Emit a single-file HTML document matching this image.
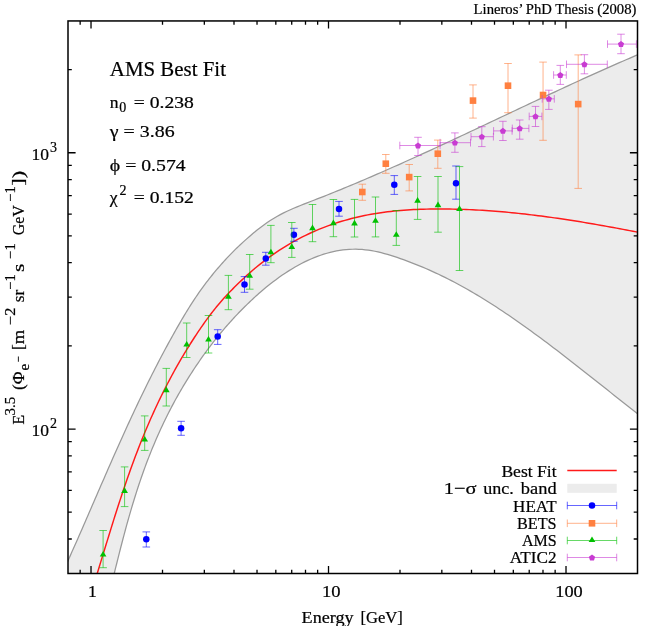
<!DOCTYPE html>
<html><head><meta charset="utf-8"><title>AMS Best Fit</title>
<style>html,body{margin:0;padding:0;background:#fff;}body{width:667px;height:626px;overflow:hidden;font-family:"Liberation Serif",serif;}svg{display:block;}</style></head>
<body>
<svg width="667" height="626" viewBox="0 0 667 626">
<rect width="667" height="626" fill="#ffffff"/>
<defs><clipPath id="cp"><rect x="68.00" y="20.95" width="569.50" height="552.55"/></clipPath></defs>
<g clip-path="url(#cp)">
<path d="M65.00,579.50 L66.00,565.13 L67.46,561.89 L68.92,558.64 L70.39,555.37 L71.85,552.09 L73.31,548.81 L74.77,545.51 L76.24,542.20 L77.70,538.88 L79.16,535.55 L80.62,532.22 L82.08,528.88 L83.55,525.53 L85.01,522.17 L86.47,518.81 L87.93,515.45 L89.39,512.08 L90.86,508.71 L92.32,505.33 L93.78,501.96 L95.24,498.59 L96.71,495.21 L98.17,491.84 L99.63,488.47 L101.09,485.10 L102.55,481.74 L104.02,478.38 L105.48,475.02 L106.94,471.67 L108.40,468.33 L109.87,465.00 L111.33,461.67 L112.79,458.35 L114.25,455.05 L115.71,451.75 L117.18,448.46 L118.64,445.18 L120.10,441.92 L121.56,438.67 L123.03,435.43 L124.49,432.21 L125.95,429.00 L127.41,425.80 L128.87,422.62 L130.34,419.46 L131.80,416.31 L133.26,413.18 L134.72,410.06 L136.18,406.96 L137.65,403.88 L139.11,400.81 L140.57,397.76 L142.03,394.74 L143.50,391.72 L144.96,388.73 L146.42,385.76 L147.88,382.80 L149.34,379.86 L150.81,376.95 L152.27,374.05 L153.73,371.17 L155.19,368.30 L156.66,365.46 L158.12,362.64 L159.58,359.83 L161.04,357.05 L162.50,354.28 L163.97,351.54 L165.43,348.81 L166.89,346.10 L168.35,343.41 L169.82,340.74 L171.28,338.09 L172.74,335.45 L174.20,332.84 L175.66,330.24 L177.13,327.66 L178.59,325.10 L180.05,322.57 L181.51,320.06 L182.97,317.58 L184.44,315.13 L185.90,312.71 L187.36,310.33 L188.82,307.97 L190.29,305.65 L191.75,303.37 L193.21,301.12 L194.67,298.91 L196.13,296.73 L197.60,294.59 L199.06,292.48 L200.52,290.41 L201.98,288.37 L203.45,286.36 L204.91,284.39 L206.37,282.46 L207.83,280.55 L209.29,278.67 L210.76,276.83 L212.22,275.01 L213.68,273.21 L215.14,271.44 L216.61,269.70 L218.07,267.99 L219.53,266.29 L220.99,264.62 L222.45,262.98 L223.92,261.35 L225.38,259.75 L226.84,258.17 L228.30,256.61 L229.76,255.08 L231.23,253.56 L232.69,252.07 L234.15,250.61 L235.61,249.16 L237.08,247.73 L238.54,246.33 L240.00,244.96 L243.36,241.86 L246.71,238.86 L250.07,235.93 L253.43,233.08 L256.79,230.32 L260.14,227.67 L263.50,225.15 L266.86,222.77 L270.21,220.54 L273.57,218.45 L276.93,216.50 L280.29,214.66 L283.64,212.93 L287.00,211.29 L290.36,209.74 L293.71,208.26 L297.07,206.85 L300.43,205.48 L303.79,204.14 L307.14,202.83 L310.50,201.54 L313.86,200.24 L317.21,198.94 L320.57,197.63 L323.93,196.31 L327.29,194.97 L330.64,193.63 L334.00,192.28 L337.36,190.92 L340.71,189.55 L344.07,188.17 L347.43,186.79 L350.79,185.39 L354.14,183.99 L357.50,182.57 L360.86,181.15 L364.21,179.73 L367.57,178.29 L370.93,176.85 L374.29,175.40 L377.64,173.94 L381.00,172.48 L384.36,171.00 L387.71,169.53 L391.07,168.04 L394.43,166.55 L397.79,165.06 L401.14,163.56 L404.50,162.05 L407.86,160.54 L411.21,159.02 L414.57,157.50 L417.93,155.97 L421.29,154.44 L424.64,152.91 L428.00,151.37 L431.36,149.82 L434.71,148.27 L438.07,146.72 L441.43,145.17 L444.79,143.61 L448.14,142.05 L451.50,140.48 L454.86,138.92 L458.21,137.35 L461.57,135.77 L464.93,134.20 L468.29,132.62 L471.64,131.05 L475.00,129.47 L478.36,127.89 L481.71,126.30 L485.07,124.72 L488.43,123.14 L491.79,121.55 L495.14,119.97 L498.50,118.38 L501.86,116.79 L505.21,115.21 L508.57,113.62 L511.93,112.04 L515.29,110.45 L518.64,108.87 L522.00,107.29 L525.36,105.71 L528.71,104.13 L532.07,102.55 L535.43,100.97 L538.79,99.40 L542.14,97.83 L545.50,96.26 L548.86,94.69 L552.21,93.12 L555.57,91.56 L558.93,90.00 L562.29,88.45 L565.64,86.90 L569.00,85.35 L572.36,83.80 L575.71,82.26 L579.07,80.73 L582.43,79.19 L585.79,77.67 L589.14,76.14 L592.50,74.63 L595.86,73.11 L599.21,71.61 L602.57,70.10 L605.93,68.61 L609.29,67.12 L612.64,65.63 L616.00,64.16 L619.36,62.68 L622.71,61.22 L626.07,59.76 L629.43,58.31 L632.79,56.87 L636.14,55.43 L639.50,54.00 L639.50,415.32 L636.31,412.82 L633.12,410.31 L629.93,407.79 L626.74,405.27 L623.55,402.74 L620.37,400.22 L617.18,397.69 L613.99,395.15 L610.80,392.62 L607.61,390.09 L604.42,387.55 L601.23,385.02 L598.04,382.49 L594.85,379.96 L591.66,377.44 L588.47,374.92 L585.29,372.40 L582.10,369.89 L578.91,367.39 L575.72,364.89 L572.53,362.40 L569.34,359.92 L566.15,357.45 L562.96,354.99 L559.77,352.54 L556.58,350.10 L553.39,347.67 L550.21,345.25 L547.02,342.85 L543.83,340.46 L540.64,338.09 L537.45,335.73 L534.26,333.39 L531.07,331.07 L527.88,328.76 L524.69,326.47 L521.50,324.20 L518.32,321.96 L515.13,319.73 L511.94,317.52 L508.75,315.33 L505.56,313.17 L502.37,311.03 L499.18,308.92 L495.99,306.83 L492.80,304.77 L489.61,302.73 L486.42,300.72 L483.24,298.73 L480.05,296.78 L476.86,294.86 L473.67,292.96 L470.48,291.10 L467.29,289.26 L464.10,287.46 L460.91,285.70 L457.72,283.96 L454.53,282.26 L451.34,280.60 L448.16,278.97 L444.97,277.38 L441.78,275.82 L438.59,274.29 L435.40,272.81 L432.21,271.35 L429.02,269.93 L425.83,268.54 L422.64,267.18 L419.45,265.86 L416.26,264.56 L413.08,263.30 L409.89,262.07 L406.70,260.87 L403.51,259.70 L400.32,258.56 L397.13,257.46 L393.94,256.40 L390.75,255.39 L387.56,254.43 L384.37,253.53 L381.18,252.70 L378.00,251.94 L374.81,251.26 L371.62,250.67 L368.43,250.17 L365.24,249.77 L362.05,249.48 L358.86,249.30 L355.67,249.22 L352.48,249.25 L349.29,249.39 L346.11,249.63 L342.92,249.98 L339.73,250.43 L336.54,250.98 L333.35,251.63 L330.16,252.38 L326.97,253.23 L323.78,254.18 L320.59,255.23 L317.40,256.38 L314.21,257.62 L311.03,258.95 L307.84,260.38 L304.65,261.90 L301.46,263.52 L298.27,265.23 L295.08,267.02 L291.89,268.91 L288.70,270.88 L285.51,272.94 L282.32,275.09 L279.13,277.33 L275.95,279.65 L272.76,282.05 L269.57,284.53 L266.38,287.10 L263.19,289.75 L260.00,292.49 L258.76,293.57 L257.53,294.67 L256.29,295.78 L255.06,296.90 L253.82,298.04 L252.59,299.18 L251.35,300.34 L250.12,301.51 L248.88,302.69 L247.65,303.88 L246.41,305.08 L245.18,306.30 L243.94,307.52 L242.71,308.76 L241.47,310.01 L240.24,311.28 L239.00,312.55 L237.76,313.84 L236.53,315.14 L235.29,316.45 L234.06,317.78 L232.82,319.12 L231.59,320.47 L230.35,321.83 L229.12,323.21 L227.88,324.60 L226.65,326.01 L225.41,327.43 L224.18,328.87 L222.94,330.32 L221.71,331.79 L220.47,333.27 L219.24,334.77 L218.00,336.28 L216.76,337.81 L215.53,339.35 L214.29,340.91 L213.06,342.49 L211.82,344.08 L210.59,345.69 L209.35,347.32 L208.12,348.97 L206.88,350.63 L205.65,352.31 L204.41,354.01 L203.18,355.73 L201.94,357.46 L200.71,359.22 L199.47,360.99 L198.24,362.79 L197.00,364.60 L195.76,366.43 L194.53,368.28 L193.29,370.16 L192.06,372.05 L190.82,373.96 L189.59,375.90 L188.35,377.86 L187.12,379.84 L185.88,381.85 L184.65,383.88 L183.41,385.93 L182.18,388.01 L180.94,390.12 L179.71,392.25 L178.47,394.41 L177.24,396.60 L176.00,398.82 L174.76,401.07 L173.53,403.35 L172.29,405.66 L171.06,408.01 L169.82,410.38 L168.59,412.80 L167.35,415.24 L166.12,417.73 L164.88,420.25 L163.65,422.82 L162.41,425.42 L161.18,428.06 L159.94,430.75 L158.71,433.48 L157.47,436.26 L156.24,439.09 L155.00,441.96 L153.76,444.89 L152.53,447.86 L151.29,450.89 L150.06,453.98 L148.82,457.12 L147.59,460.32 L146.35,463.59 L145.12,466.91 L143.88,470.30 L142.65,473.76 L141.41,477.28 L140.18,480.88 L138.94,484.54 L137.71,488.28 L136.47,492.10 L135.24,495.99 L134.00,499.96 L132.76,504.01 L131.53,508.14 L130.29,512.35 L129.06,516.63 L127.82,521.00 L126.59,525.45 L125.35,529.97 L124.12,534.57 L122.88,539.23 L121.65,543.97 L120.41,548.77 L119.18,553.62 L117.94,558.53 L116.71,563.48 L115.47,568.47 L114.24,573.49 L113.00,578.53 L113.00,579.50Z" fill="#ececec" stroke="none"/>
<path d="M66.00,565.13 L67.46,561.89 L68.92,558.64 L70.39,555.37 L71.85,552.09 L73.31,548.81 L74.77,545.51 L76.24,542.20 L77.70,538.88 L79.16,535.55 L80.62,532.22 L82.08,528.88 L83.55,525.53 L85.01,522.17 L86.47,518.81 L87.93,515.45 L89.39,512.08 L90.86,508.71 L92.32,505.33 L93.78,501.96 L95.24,498.59 L96.71,495.21 L98.17,491.84 L99.63,488.47 L101.09,485.10 L102.55,481.74 L104.02,478.38 L105.48,475.02 L106.94,471.67 L108.40,468.33 L109.87,465.00 L111.33,461.67 L112.79,458.35 L114.25,455.05 L115.71,451.75 L117.18,448.46 L118.64,445.18 L120.10,441.92 L121.56,438.67 L123.03,435.43 L124.49,432.21 L125.95,429.00 L127.41,425.80 L128.87,422.62 L130.34,419.46 L131.80,416.31 L133.26,413.18 L134.72,410.06 L136.18,406.96 L137.65,403.88 L139.11,400.81 L140.57,397.76 L142.03,394.74 L143.50,391.72 L144.96,388.73 L146.42,385.76 L147.88,382.80 L149.34,379.86 L150.81,376.95 L152.27,374.05 L153.73,371.17 L155.19,368.30 L156.66,365.46 L158.12,362.64 L159.58,359.83 L161.04,357.05 L162.50,354.28 L163.97,351.54 L165.43,348.81 L166.89,346.10 L168.35,343.41 L169.82,340.74 L171.28,338.09 L172.74,335.45 L174.20,332.84 L175.66,330.24 L177.13,327.66 L178.59,325.10 L180.05,322.57 L181.51,320.06 L182.97,317.58 L184.44,315.13 L185.90,312.71 L187.36,310.33 L188.82,307.97 L190.29,305.65 L191.75,303.37 L193.21,301.12 L194.67,298.91 L196.13,296.73 L197.60,294.59 L199.06,292.48 L200.52,290.41 L201.98,288.37 L203.45,286.36 L204.91,284.39 L206.37,282.46 L207.83,280.55 L209.29,278.67 L210.76,276.83 L212.22,275.01 L213.68,273.21 L215.14,271.44 L216.61,269.70 L218.07,267.99 L219.53,266.29 L220.99,264.62 L222.45,262.98 L223.92,261.35 L225.38,259.75 L226.84,258.17 L228.30,256.61 L229.76,255.08 L231.23,253.56 L232.69,252.07 L234.15,250.61 L235.61,249.16 L237.08,247.73 L238.54,246.33 L240.00,244.96 L243.36,241.86 L246.71,238.86 L250.07,235.93 L253.43,233.08 L256.79,230.32 L260.14,227.67 L263.50,225.15 L266.86,222.77 L270.21,220.54 L273.57,218.45 L276.93,216.50 L280.29,214.66 L283.64,212.93 L287.00,211.29 L290.36,209.74 L293.71,208.26 L297.07,206.85 L300.43,205.48 L303.79,204.14 L307.14,202.83 L310.50,201.54 L313.86,200.24 L317.21,198.94 L320.57,197.63 L323.93,196.31 L327.29,194.97 L330.64,193.63 L334.00,192.28 L337.36,190.92 L340.71,189.55 L344.07,188.17 L347.43,186.79 L350.79,185.39 L354.14,183.99 L357.50,182.57 L360.86,181.15 L364.21,179.73 L367.57,178.29 L370.93,176.85 L374.29,175.40 L377.64,173.94 L381.00,172.48 L384.36,171.00 L387.71,169.53 L391.07,168.04 L394.43,166.55 L397.79,165.06 L401.14,163.56 L404.50,162.05 L407.86,160.54 L411.21,159.02 L414.57,157.50 L417.93,155.97 L421.29,154.44 L424.64,152.91 L428.00,151.37 L431.36,149.82 L434.71,148.27 L438.07,146.72 L441.43,145.17 L444.79,143.61 L448.14,142.05 L451.50,140.48 L454.86,138.92 L458.21,137.35 L461.57,135.77 L464.93,134.20 L468.29,132.62 L471.64,131.05 L475.00,129.47 L478.36,127.89 L481.71,126.30 L485.07,124.72 L488.43,123.14 L491.79,121.55 L495.14,119.97 L498.50,118.38 L501.86,116.79 L505.21,115.21 L508.57,113.62 L511.93,112.04 L515.29,110.45 L518.64,108.87 L522.00,107.29 L525.36,105.71 L528.71,104.13 L532.07,102.55 L535.43,100.97 L538.79,99.40 L542.14,97.83 L545.50,96.26 L548.86,94.69 L552.21,93.12 L555.57,91.56 L558.93,90.00 L562.29,88.45 L565.64,86.90 L569.00,85.35 L572.36,83.80 L575.71,82.26 L579.07,80.73 L582.43,79.19 L585.79,77.67 L589.14,76.14 L592.50,74.63 L595.86,73.11 L599.21,71.61 L602.57,70.10 L605.93,68.61 L609.29,67.12 L612.64,65.63 L616.00,64.16 L619.36,62.68 L622.71,61.22 L626.07,59.76 L629.43,58.31 L632.79,56.87 L636.14,55.43 L639.50,54.00" fill="none" stroke="#999999" stroke-width="1.25"/>
<path d="M113.00,578.53 L114.24,573.49 L115.47,568.47 L116.71,563.48 L117.94,558.53 L119.18,553.62 L120.41,548.77 L121.65,543.97 L122.88,539.23 L124.12,534.57 L125.35,529.97 L126.59,525.45 L127.82,521.00 L129.06,516.63 L130.29,512.35 L131.53,508.14 L132.76,504.01 L134.00,499.96 L135.24,495.99 L136.47,492.10 L137.71,488.28 L138.94,484.54 L140.18,480.88 L141.41,477.28 L142.65,473.76 L143.88,470.30 L145.12,466.91 L146.35,463.59 L147.59,460.32 L148.82,457.12 L150.06,453.98 L151.29,450.89 L152.53,447.86 L153.76,444.89 L155.00,441.96 L156.24,439.09 L157.47,436.26 L158.71,433.48 L159.94,430.75 L161.18,428.06 L162.41,425.42 L163.65,422.82 L164.88,420.25 L166.12,417.73 L167.35,415.24 L168.59,412.80 L169.82,410.38 L171.06,408.01 L172.29,405.66 L173.53,403.35 L174.76,401.07 L176.00,398.82 L177.24,396.60 L178.47,394.41 L179.71,392.25 L180.94,390.12 L182.18,388.01 L183.41,385.93 L184.65,383.88 L185.88,381.85 L187.12,379.84 L188.35,377.86 L189.59,375.90 L190.82,373.96 L192.06,372.05 L193.29,370.16 L194.53,368.28 L195.76,366.43 L197.00,364.60 L198.24,362.79 L199.47,360.99 L200.71,359.22 L201.94,357.46 L203.18,355.73 L204.41,354.01 L205.65,352.31 L206.88,350.63 L208.12,348.97 L209.35,347.32 L210.59,345.69 L211.82,344.08 L213.06,342.49 L214.29,340.91 L215.53,339.35 L216.76,337.81 L218.00,336.28 L219.24,334.77 L220.47,333.27 L221.71,331.79 L222.94,330.32 L224.18,328.87 L225.41,327.43 L226.65,326.01 L227.88,324.60 L229.12,323.21 L230.35,321.83 L231.59,320.47 L232.82,319.12 L234.06,317.78 L235.29,316.45 L236.53,315.14 L237.76,313.84 L239.00,312.55 L240.24,311.28 L241.47,310.01 L242.71,308.76 L243.94,307.52 L245.18,306.30 L246.41,305.08 L247.65,303.88 L248.88,302.69 L250.12,301.51 L251.35,300.34 L252.59,299.18 L253.82,298.04 L255.06,296.90 L256.29,295.78 L257.53,294.67 L258.76,293.57 L260.00,292.49 L263.19,289.75 L266.38,287.10 L269.57,284.53 L272.76,282.05 L275.95,279.65 L279.13,277.33 L282.32,275.09 L285.51,272.94 L288.70,270.88 L291.89,268.91 L295.08,267.02 L298.27,265.23 L301.46,263.52 L304.65,261.90 L307.84,260.38 L311.03,258.95 L314.21,257.62 L317.40,256.38 L320.59,255.23 L323.78,254.18 L326.97,253.23 L330.16,252.38 L333.35,251.63 L336.54,250.98 L339.73,250.43 L342.92,249.98 L346.11,249.63 L349.29,249.39 L352.48,249.25 L355.67,249.22 L358.86,249.30 L362.05,249.48 L365.24,249.77 L368.43,250.17 L371.62,250.67 L374.81,251.26 L378.00,251.94 L381.18,252.70 L384.37,253.53 L387.56,254.43 L390.75,255.39 L393.94,256.40 L397.13,257.46 L400.32,258.56 L403.51,259.70 L406.70,260.87 L409.89,262.07 L413.08,263.30 L416.26,264.56 L419.45,265.86 L422.64,267.18 L425.83,268.54 L429.02,269.93 L432.21,271.35 L435.40,272.81 L438.59,274.29 L441.78,275.82 L444.97,277.38 L448.16,278.97 L451.34,280.60 L454.53,282.26 L457.72,283.96 L460.91,285.70 L464.10,287.46 L467.29,289.26 L470.48,291.10 L473.67,292.96 L476.86,294.86 L480.05,296.78 L483.24,298.73 L486.42,300.72 L489.61,302.73 L492.80,304.77 L495.99,306.83 L499.18,308.92 L502.37,311.03 L505.56,313.17 L508.75,315.33 L511.94,317.52 L515.13,319.73 L518.32,321.96 L521.50,324.20 L524.69,326.47 L527.88,328.76 L531.07,331.07 L534.26,333.39 L537.45,335.73 L540.64,338.09 L543.83,340.46 L547.02,342.85 L550.21,345.25 L553.39,347.67 L556.58,350.10 L559.77,352.54 L562.96,354.99 L566.15,357.45 L569.34,359.92 L572.53,362.40 L575.72,364.89 L578.91,367.39 L582.10,369.89 L585.29,372.40 L588.47,374.92 L591.66,377.44 L594.85,379.96 L598.04,382.49 L601.23,385.02 L604.42,387.55 L607.61,390.09 L610.80,392.62 L613.99,395.15 L617.18,397.69 L620.37,400.22 L623.55,402.74 L626.74,405.27 L629.93,407.79 L633.12,410.31 L636.31,412.82 L639.50,415.32" fill="none" stroke="#999999" stroke-width="1.25"/>
<path d="M97.00,574.18 L98.29,570.00 L99.57,565.81 L100.86,561.61 L102.14,557.40 L103.43,553.20 L104.71,548.99 L106.00,544.79 L107.29,540.60 L108.57,536.42 L109.86,532.26 L111.14,528.12 L112.43,523.99 L113.71,519.90 L115.00,515.83 L116.29,511.79 L117.57,507.78 L118.86,503.80 L120.14,499.86 L121.43,495.96 L122.71,492.10 L124.00,488.28 L125.29,484.50 L126.57,480.77 L127.86,477.07 L129.14,473.42 L130.43,469.82 L131.71,466.26 L133.00,462.74 L134.29,459.27 L135.57,455.84 L136.86,452.46 L138.14,449.12 L139.43,445.83 L140.71,442.57 L142.00,439.37 L143.29,436.20 L144.57,433.08 L145.86,429.99 L147.14,426.95 L148.43,423.95 L149.71,420.99 L151.00,418.06 L152.29,415.18 L153.57,412.33 L154.86,409.51 L156.14,406.74 L157.43,404.00 L158.71,401.29 L160.00,398.62 L161.29,395.98 L162.57,393.37 L163.86,390.80 L165.14,388.25 L166.43,385.74 L167.71,383.26 L169.00,380.80 L170.29,378.38 L171.57,375.98 L172.86,373.61 L174.14,371.27 L175.43,368.95 L176.71,366.66 L178.00,364.39 L179.29,362.15 L180.57,359.94 L181.86,357.74 L183.14,355.57 L184.43,353.42 L185.71,351.30 L187.00,349.20 L188.29,347.11 L189.57,345.05 L190.86,343.01 L192.14,340.99 L193.43,338.99 L194.71,337.01 L196.00,335.05 L197.29,333.11 L198.57,331.19 L199.86,329.29 L201.14,327.41 L202.43,325.56 L203.71,323.73 L205.00,321.93 L206.29,320.15 L207.57,318.40 L208.86,316.67 L210.14,314.97 L211.43,313.29 L212.71,311.63 L214.00,310.00 L215.29,308.39 L216.57,306.81 L217.86,305.25 L219.14,303.72 L220.43,302.22 L221.71,300.74 L223.00,299.29 L224.29,297.85 L225.57,296.45 L226.86,295.06 L228.14,293.69 L229.43,292.34 L230.71,291.00 L232.00,289.69 L233.29,288.38 L234.57,287.10 L235.86,285.82 L237.14,284.56 L238.43,283.31 L239.71,282.07 L241.00,280.85 L242.29,279.63 L243.57,278.43 L244.86,277.24 L246.14,276.07 L247.43,274.90 L248.71,273.75 L250.00,272.61 L253.27,269.78 L256.55,267.04 L259.82,264.38 L263.09,261.81 L266.37,259.32 L269.64,256.91 L272.91,254.58 L276.18,252.33 L279.46,250.16 L282.73,248.06 L286.00,246.03 L289.28,244.08 L292.55,242.19 L295.82,240.38 L299.10,238.63 L302.37,236.95 L305.64,235.33 L308.92,233.77 L312.19,232.27 L315.46,230.83 L318.74,229.45 L322.01,228.13 L325.28,226.86 L328.55,225.64 L331.83,224.48 L335.10,223.37 L338.37,222.31 L341.65,221.30 L344.92,220.34 L348.19,219.43 L351.47,218.56 L354.74,217.74 L358.01,216.97 L361.29,216.24 L364.56,215.55 L367.83,214.90 L371.11,214.29 L374.38,213.72 L377.65,213.19 L380.92,212.70 L384.20,212.24 L387.47,211.82 L390.74,211.43 L394.02,211.08 L397.29,210.75 L400.56,210.46 L403.84,210.20 L407.11,209.96 L410.38,209.76 L413.66,209.58 L416.93,209.42 L420.20,209.29 L423.47,209.18 L426.75,209.10 L430.02,209.04 L433.29,208.99 L436.57,208.97 L439.84,208.96 L443.11,208.97 L446.39,209.00 L449.66,209.04 L452.93,209.10 L456.21,209.18 L459.48,209.27 L462.75,209.37 L466.03,209.50 L469.30,209.63 L472.57,209.79 L475.84,209.95 L479.12,210.14 L482.39,210.33 L485.66,210.54 L488.94,210.77 L492.21,211.00 L495.48,211.26 L498.76,211.52 L502.03,211.80 L505.30,212.09 L508.58,212.39 L511.85,212.71 L515.12,213.03 L518.39,213.37 L521.67,213.73 L524.94,214.09 L528.21,214.46 L531.49,214.85 L534.76,215.25 L538.03,215.66 L541.31,216.07 L544.58,216.50 L547.85,216.94 L551.13,217.39 L554.40,217.85 L557.67,218.32 L560.95,218.79 L564.22,219.28 L567.49,219.78 L570.76,220.28 L574.04,220.79 L577.31,221.31 L580.58,221.84 L583.86,222.38 L587.13,222.92 L590.40,223.48 L593.68,224.04 L596.95,224.60 L600.22,225.18 L603.50,225.75 L606.77,226.34 L610.04,226.93 L613.32,227.53 L616.59,228.14 L619.86,228.74 L623.13,229.36 L626.41,229.98 L629.68,230.60 L632.95,231.23 L636.23,231.87 L639.50,232.51" fill="none" stroke="#ff1a1a" stroke-width="1.45"/>
<path d="M146.30,531.90V547.00M142.50,531.90H150.10M142.50,547.00H150.10" stroke="#0000ff" stroke-width="1.0" stroke-opacity="0.6" fill="none"/>
<path d="M181.10,421.30V435.30M177.30,421.30H184.90M177.30,435.30H184.90" stroke="#0000ff" stroke-width="1.0" stroke-opacity="0.6" fill="none"/>
<path d="M217.70,329.70V344.40M213.90,329.70H221.50M213.90,344.40H221.50" stroke="#0000ff" stroke-width="1.0" stroke-opacity="0.6" fill="none"/>
<path d="M244.50,276.60V292.30M240.70,276.60H248.30M240.70,292.30H248.30" stroke="#0000ff" stroke-width="1.0" stroke-opacity="0.6" fill="none"/>
<path d="M265.80,252.30V265.20M262.00,252.30H269.60M262.00,265.20H269.60" stroke="#0000ff" stroke-width="1.0" stroke-opacity="0.6" fill="none"/>
<path d="M293.90,228.30V241.30M290.10,228.30H297.70M290.10,241.30H297.70" stroke="#0000ff" stroke-width="1.0" stroke-opacity="0.6" fill="none"/>
<path d="M339.00,201.40V216.20M335.20,201.40H342.80M335.20,216.20H342.80" stroke="#0000ff" stroke-width="1.0" stroke-opacity="0.6" fill="none"/>
<path d="M394.30,175.60V194.40M390.50,175.60H398.10M390.50,194.40H398.10" stroke="#0000ff" stroke-width="1.0" stroke-opacity="0.6" fill="none"/>
<path d="M456.00,166.00V199.20M452.20,166.00H459.80M452.20,199.20H459.80" stroke="#0000ff" stroke-width="1.0" stroke-opacity="0.6" fill="none"/>
<circle cx="146.30" cy="539.20" r="3.25" fill="#0000ff"/>
<circle cx="181.10" cy="428.20" r="3.25" fill="#0000ff"/>
<circle cx="217.70" cy="336.60" r="3.25" fill="#0000ff"/>
<circle cx="244.50" cy="284.40" r="3.25" fill="#0000ff"/>
<circle cx="265.80" cy="258.60" r="3.25" fill="#0000ff"/>
<circle cx="293.90" cy="234.80" r="3.25" fill="#0000ff"/>
<circle cx="339.00" cy="209.10" r="3.25" fill="#0000ff"/>
<circle cx="394.30" cy="184.80" r="3.25" fill="#0000ff"/>
<circle cx="456.00" cy="183.30" r="3.25" fill="#0000ff"/>
<path d="M362.30,184.20V200.30M358.50,184.20H366.10M358.50,200.30H366.10" stroke="#ff8040" stroke-width="1.0" stroke-opacity="0.6" fill="none"/>
<path d="M385.80,154.50V173.30M382.00,154.50H389.60M382.00,173.30H389.60" stroke="#ff8040" stroke-width="1.0" stroke-opacity="0.6" fill="none"/>
<path d="M409.20,164.50V190.90M405.40,164.50H413.00M405.40,190.90H413.00" stroke="#ff8040" stroke-width="1.0" stroke-opacity="0.6" fill="none"/>
<path d="M437.80,140.10V168.30M434.00,140.10H441.60M434.00,168.30H441.60" stroke="#ff8040" stroke-width="1.0" stroke-opacity="0.6" fill="none"/>
<path d="M473.00,84.90V118.10M469.20,84.90H476.80M469.20,118.10H476.80" stroke="#ff8040" stroke-width="1.0" stroke-opacity="0.6" fill="none"/>
<path d="M508.00,63.50V112.70M504.20,63.50H511.80M504.20,112.70H511.80" stroke="#ff8040" stroke-width="1.0" stroke-opacity="0.6" fill="none"/>
<path d="M543.05,62.10V140.30M539.25,62.10H546.85M539.25,140.30H546.85" stroke="#ff8040" stroke-width="1.0" stroke-opacity="0.6" fill="none"/>
<path d="M578.20,54.90V188.40M574.40,54.90H582.00M574.40,188.40H582.00" stroke="#ff8040" stroke-width="1.0" stroke-opacity="0.6" fill="none"/>
<rect x="359.00" y="188.70" width="6.6" height="6.6" fill="#ff8040"/>
<rect x="382.50" y="160.40" width="6.6" height="6.6" fill="#ff8040"/>
<rect x="405.90" y="173.80" width="6.6" height="6.6" fill="#ff8040"/>
<rect x="434.50" y="150.40" width="6.6" height="6.6" fill="#ff8040"/>
<rect x="469.70" y="97.30" width="6.6" height="6.6" fill="#ff8040"/>
<rect x="504.70" y="82.40" width="6.6" height="6.6" fill="#ff8040"/>
<rect x="539.75" y="91.70" width="6.6" height="6.6" fill="#ff8040"/>
<rect x="574.90" y="100.80" width="6.6" height="6.6" fill="#ff8040"/>
<path d="M103.10,530.50V567.70M99.30,530.50H106.90M99.30,567.70H106.90" stroke="#00c000" stroke-width="1.0" stroke-opacity="0.6" fill="none"/>
<path d="M124.60,466.90V506.60M120.80,466.90H128.40M120.80,506.60H128.40" stroke="#00c000" stroke-width="1.0" stroke-opacity="0.6" fill="none"/>
<path d="M144.70,415.90V450.40M140.90,415.90H148.50M140.90,450.40H148.50" stroke="#00c000" stroke-width="1.0" stroke-opacity="0.6" fill="none"/>
<path d="M166.30,368.40V406.00M162.50,368.40H170.10M162.50,406.00H170.10" stroke="#00c000" stroke-width="1.0" stroke-opacity="0.6" fill="none"/>
<path d="M186.70,323.00V357.50M182.90,323.00H190.50M182.90,357.50H190.50" stroke="#00c000" stroke-width="1.0" stroke-opacity="0.6" fill="none"/>
<path d="M208.50,315.50V353.00M204.70,315.50H212.30M204.70,353.00H212.30" stroke="#00c000" stroke-width="1.0" stroke-opacity="0.6" fill="none"/>
<path d="M228.40,275.40V309.70M224.60,275.40H232.20M224.60,309.70H232.20" stroke="#00c000" stroke-width="1.0" stroke-opacity="0.6" fill="none"/>
<path d="M249.70,254.50V289.20M245.90,254.50H253.50M245.90,289.20H253.50" stroke="#00c000" stroke-width="1.0" stroke-opacity="0.6" fill="none"/>
<path d="M270.90,225.40V262.70M267.10,225.40H274.70M267.10,262.70H274.70" stroke="#00c000" stroke-width="1.0" stroke-opacity="0.6" fill="none"/>
<path d="M291.80,222.50V257.40M288.00,222.50H295.60M288.00,257.40H295.60" stroke="#00c000" stroke-width="1.0" stroke-opacity="0.6" fill="none"/>
<path d="M312.50,204.50V241.70M308.70,204.50H316.30M308.70,241.70H316.30" stroke="#00c000" stroke-width="1.0" stroke-opacity="0.6" fill="none"/>
<path d="M333.40,199.50V236.70M329.60,199.50H337.20M329.60,236.70H337.20" stroke="#00c000" stroke-width="1.0" stroke-opacity="0.6" fill="none"/>
<path d="M354.50,199.40V237.00M350.70,199.40H358.30M350.70,237.00H358.30" stroke="#00c000" stroke-width="1.0" stroke-opacity="0.6" fill="none"/>
<path d="M375.50,197.00V236.90M371.70,197.00H379.30M371.70,236.90H379.30" stroke="#00c000" stroke-width="1.0" stroke-opacity="0.6" fill="none"/>
<path d="M396.30,210.50V245.40M392.50,210.50H400.10M392.50,245.40H400.10" stroke="#00c000" stroke-width="1.0" stroke-opacity="0.6" fill="none"/>
<path d="M417.60,176.50V219.40M413.80,176.50H421.40M413.80,219.40H421.40" stroke="#00c000" stroke-width="1.0" stroke-opacity="0.6" fill="none"/>
<path d="M438.00,176.50V232.20M434.20,176.50H441.80M434.20,232.20H441.80" stroke="#00c000" stroke-width="1.0" stroke-opacity="0.6" fill="none"/>
<path d="M459.50,166.60V270.50M455.70,166.60H463.30M455.70,270.50H463.30" stroke="#00c000" stroke-width="1.0" stroke-opacity="0.6" fill="none"/>
<path d="M103.10,550.95L99.75,556.55L106.45,556.55Z" fill="#00c000"/>
<path d="M124.60,487.35L121.25,492.95L127.95,492.95Z" fill="#00c000"/>
<path d="M144.70,435.95L141.35,441.55L148.05,441.55Z" fill="#00c000"/>
<path d="M166.30,386.55L162.95,392.15L169.65,392.15Z" fill="#00c000"/>
<path d="M186.70,340.95L183.35,346.55L190.05,346.55Z" fill="#00c000"/>
<path d="M208.50,335.95L205.15,341.55L211.85,341.55Z" fill="#00c000"/>
<path d="M228.40,293.15L225.05,298.75L231.75,298.75Z" fill="#00c000"/>
<path d="M249.70,272.25L246.35,277.85L253.05,277.85Z" fill="#00c000"/>
<path d="M270.90,248.65L267.55,254.25L274.25,254.25Z" fill="#00c000"/>
<path d="M291.80,243.35L288.45,248.95L295.15,248.95Z" fill="#00c000"/>
<path d="M312.50,224.55L309.15,230.15L315.85,230.15Z" fill="#00c000"/>
<path d="M333.40,219.55L330.05,225.15L336.75,225.15Z" fill="#00c000"/>
<path d="M354.50,219.85L351.15,225.45L357.85,225.45Z" fill="#00c000"/>
<path d="M375.50,217.15L372.15,222.75L378.85,222.75Z" fill="#00c000"/>
<path d="M396.30,231.25L392.95,236.85L399.65,236.85Z" fill="#00c000"/>
<path d="M417.60,197.05L414.25,202.65L420.95,202.65Z" fill="#00c000"/>
<path d="M438.00,201.55L434.65,207.15L441.35,207.15Z" fill="#00c000"/>
<path d="M459.50,205.35L456.15,210.95L462.85,210.95Z" fill="#00c000"/>
<path d="M399.80,145.50H440.10M399.80,141.70V149.30M440.10,141.70V149.30" stroke="#c83cd2" stroke-width="1.0" stroke-opacity="0.6" fill="none"/>
<path d="M418.00,137.30V155.50M414.20,137.30H421.80M414.20,155.50H421.80" stroke="#c83cd2" stroke-width="1.0" stroke-opacity="0.6" fill="none"/>
<path d="M440.10,142.70H470.50M440.10,138.90V146.50M470.50,138.90V146.50" stroke="#c83cd2" stroke-width="1.0" stroke-opacity="0.6" fill="none"/>
<path d="M454.90,132.90V152.30M451.10,132.90H458.70M451.10,152.30H458.70" stroke="#c83cd2" stroke-width="1.0" stroke-opacity="0.6" fill="none"/>
<path d="M471.00,136.70H493.40M471.00,132.90V140.50M493.40,132.90V140.50" stroke="#c83cd2" stroke-width="1.0" stroke-opacity="0.6" fill="none"/>
<path d="M481.80,126.70V146.60M478.00,126.70H485.60M478.00,146.60H485.60" stroke="#c83cd2" stroke-width="1.0" stroke-opacity="0.6" fill="none"/>
<path d="M493.60,130.90H512.10M493.60,127.10V134.70M512.10,127.10V134.70" stroke="#c83cd2" stroke-width="1.0" stroke-opacity="0.6" fill="none"/>
<path d="M502.90,121.30V140.50M499.10,121.30H506.70M499.10,140.50H506.70" stroke="#c83cd2" stroke-width="1.0" stroke-opacity="0.6" fill="none"/>
<path d="M512.30,128.40H528.90M512.30,124.60V132.20M528.90,124.60V132.20" stroke="#c83cd2" stroke-width="1.0" stroke-opacity="0.6" fill="none"/>
<path d="M519.70,120.00V139.20M515.90,120.00H523.50M515.90,139.20H523.50" stroke="#c83cd2" stroke-width="1.0" stroke-opacity="0.6" fill="none"/>
<path d="M529.20,116.40H541.90M529.20,112.60V120.20M541.90,112.60V120.20" stroke="#c83cd2" stroke-width="1.0" stroke-opacity="0.6" fill="none"/>
<path d="M535.50,106.40V126.50M531.70,106.40H539.30M531.70,126.50H539.30" stroke="#c83cd2" stroke-width="1.0" stroke-opacity="0.6" fill="none"/>
<path d="M542.20,98.85H554.30M542.20,95.05V102.65M554.30,95.05V102.65" stroke="#c83cd2" stroke-width="1.0" stroke-opacity="0.6" fill="none"/>
<path d="M548.85,90.20V109.40M545.05,90.20H552.65M545.05,109.40H552.65" stroke="#c83cd2" stroke-width="1.0" stroke-opacity="0.6" fill="none"/>
<path d="M553.60,75.00H566.30M553.60,71.20V78.80M566.30,71.20V78.80" stroke="#c83cd2" stroke-width="1.0" stroke-opacity="0.6" fill="none"/>
<path d="M560.30,65.40V84.40M556.50,65.40H564.10M556.50,84.40H564.10" stroke="#c83cd2" stroke-width="1.0" stroke-opacity="0.6" fill="none"/>
<path d="M566.50,64.30H607.30M566.50,60.50V68.10M607.30,60.50V68.10" stroke="#c83cd2" stroke-width="1.0" stroke-opacity="0.6" fill="none"/>
<path d="M584.40,54.70V73.80M580.60,54.70H588.20M580.60,73.80H588.20" stroke="#c83cd2" stroke-width="1.0" stroke-opacity="0.6" fill="none"/>
<path d="M607.50,44.10H636.40M607.50,40.30V47.90M636.40,40.30V47.90" stroke="#c83cd2" stroke-width="1.0" stroke-opacity="0.6" fill="none"/>
<path d="M621.00,34.20V53.70M617.20,34.20H624.80M617.20,53.70H624.80" stroke="#c83cd2" stroke-width="1.0" stroke-opacity="0.6" fill="none"/>
<polygon points="418.00,142.45 421.14,144.73 419.94,148.42 416.06,148.42 414.86,144.73" fill="#c83cd2"/>
<polygon points="454.90,139.65 458.04,141.93 456.84,145.62 452.96,145.62 451.76,141.93" fill="#c83cd2"/>
<polygon points="481.80,133.65 484.94,135.93 483.74,139.62 479.86,139.62 478.66,135.93" fill="#c83cd2"/>
<polygon points="502.90,127.85 506.04,130.13 504.84,133.82 500.96,133.82 499.76,130.13" fill="#c83cd2"/>
<polygon points="519.70,125.35 522.84,127.63 521.64,131.32 517.76,131.32 516.56,127.63" fill="#c83cd2"/>
<polygon points="535.50,113.35 538.64,115.63 537.44,119.32 533.56,119.32 532.36,115.63" fill="#c83cd2"/>
<polygon points="548.85,95.80 551.99,98.08 550.79,101.77 546.91,101.77 545.71,98.08" fill="#c83cd2"/>
<polygon points="560.30,71.95 563.44,74.23 562.24,77.92 558.36,77.92 557.16,74.23" fill="#c83cd2"/>
<polygon points="584.40,61.25 587.54,63.53 586.34,67.22 582.46,67.22 581.26,63.53" fill="#c83cd2"/>
<polygon points="621.00,41.05 624.14,43.33 622.94,47.02 619.06,47.02 617.86,43.33" fill="#c83cd2"/>
</g>
<path d="M567.30,470.40H616.70" stroke="#ff1a1a" stroke-width="1.45"/>
<rect x="567.30" y="483.80" width="49.40" height="9" fill="#ececec"/>
<path d="M567.30,505.50H616.70M567.30,501.70V509.30M616.70,501.70V509.30" stroke="#0000ff" stroke-width="1.0" stroke-opacity="0.6" fill="none"/>
<circle cx="592.00" cy="505.50" r="3.25" fill="#0000ff"/>
<path d="M567.30,523.30H616.70M567.30,519.50V527.10M616.70,519.50V527.10" stroke="#ff8040" stroke-width="1.0" stroke-opacity="0.6" fill="none"/>
<rect x="588.70" y="520.00" width="6.6" height="6.6" fill="#ff8040"/>
<path d="M567.30,540.50H616.70M567.30,536.70V544.30M616.70,536.70V544.30" stroke="#00c000" stroke-width="1.0" stroke-opacity="0.6" fill="none"/>
<path d="M592.00,536.50L588.65,542.10L595.35,542.10Z" fill="#00c000"/>
<path d="M567.30,557.50H616.70M567.30,553.70V561.30M616.70,553.70V561.30" stroke="#c83cd2" stroke-width="1.0" stroke-opacity="0.6" fill="none"/>
<polygon points="592.00,554.45 595.14,556.73 593.94,560.42 590.06,560.42 588.86,556.73" fill="#c83cd2"/>
<path d="M80.15,573.50v-3.80M80.15,20.95v3.80M91.02,573.50v-7.60M91.02,20.95v7.60M162.51,573.50v-3.80M162.51,20.95v3.80M204.33,573.50v-3.80M204.33,20.95v3.80M234.00,573.50v-3.80M234.00,20.95v3.80M257.02,573.50v-3.80M257.02,20.95v3.80M275.82,573.50v-3.80M275.82,20.95v3.80M291.72,573.50v-3.80M291.72,20.95v3.80M305.50,573.50v-3.80M305.50,20.95v3.80M317.64,573.50v-3.80M317.64,20.95v3.80M328.51,573.50v-7.60M328.51,20.95v7.60M400.00,573.50v-3.80M400.00,20.95v3.80M441.83,573.50v-3.80M441.83,20.95v3.80M471.50,573.50v-3.80M471.50,20.95v3.80M494.51,573.50v-3.80M494.51,20.95v3.80M513.32,573.50v-3.80M513.32,20.95v3.80M529.22,573.50v-3.80M529.22,20.95v3.80M542.99,573.50v-3.80M542.99,20.95v3.80M555.14,573.50v-3.80M555.14,20.95v3.80M566.01,573.50v-7.60M566.01,20.95v7.60M68.00,538.98h3.80M637.50,538.98h-3.80M68.00,512.21h3.80M637.50,512.21h-3.80M68.00,490.33h3.80M637.50,490.33h-3.80M68.00,471.84h3.80M637.50,471.84h-3.80M68.00,455.82h3.80M637.50,455.82h-3.80M68.00,441.68h3.80M637.50,441.68h-3.80M68.00,429.04h7.60M637.50,429.04h-7.60M68.00,345.87h3.80M637.50,345.87h-3.80M68.00,297.22h3.80M637.50,297.22h-3.80M68.00,262.71h3.80M637.50,262.71h-3.80M68.00,235.93h3.80M637.50,235.93h-3.80M68.00,214.06h3.80M637.50,214.06h-3.80M68.00,195.56h3.80M637.50,195.56h-3.80M68.00,179.54h3.80M637.50,179.54h-3.80M68.00,165.41h3.80M637.50,165.41h-3.80M68.00,152.77h7.60M637.50,152.77h-7.60M68.00,69.60h3.80M637.50,69.60h-3.80" stroke="#000" stroke-width="1.3" fill="none"/>
<rect x="68.00" y="20.95" width="569.50" height="552.55" fill="none" stroke="#000" stroke-width="1.5"/>
<g font-family="Liberation Serif, serif" fill="#000" stroke="#000" stroke-width="0.22" style="will-change:transform">
<text x="636.40" y="14.10" font-size="14.5" text-anchor="end" textLength="162.8" lengthAdjust="spacingAndGlyphs" >Lineros’ PhD Thesis (2008)</text>
<text x="109.80" y="76.40" font-size="21" text-anchor="start" textLength="116.2" lengthAdjust="spacingAndGlyphs" >AMS Best Fit</text>
<text x="109.80" y="107.50" font-size="17.6" text-anchor="start" >n</text>
<text x="119.30" y="112.40" font-size="14" text-anchor="start" >0</text>
<text x="133.80" y="107.50" font-size="17.6" text-anchor="start" textLength="60.1" lengthAdjust="spacingAndGlyphs" >= 0.238</text>
<text x="109.80" y="136.50" font-size="17.6" text-anchor="start" textLength="64.8" lengthAdjust="spacingAndGlyphs" >γ = 3.86</text>
<text x="109.80" y="171.30" font-size="17.6" text-anchor="start" textLength="75.9" lengthAdjust="spacingAndGlyphs" >ϕ = 0.574</text>
<text x="109.80" y="202.90" font-size="17.6" text-anchor="start" >χ</text>
<text x="119.50" y="195.30" font-size="14" text-anchor="start" >2</text>
<text x="133.80" y="202.90" font-size="17.6" text-anchor="start" textLength="60.1" lengthAdjust="spacingAndGlyphs" >= 0.152</text>
<text x="556.60" y="476.50" font-size="17.6" text-anchor="end" textLength="55.2" lengthAdjust="spacingAndGlyphs" >Best Fit</text>
<text x="443.80" y="494.10" font-size="17.6" text-anchor="start" textLength="32.8" lengthAdjust="spacingAndGlyphs" >1−σ</text>
<text x="483.20" y="494.10" font-size="17.6" text-anchor="start" textLength="30.6" lengthAdjust="spacingAndGlyphs" >unc.</text>
<text x="520.80" y="494.10" font-size="17.6" text-anchor="start" textLength="35.8" lengthAdjust="spacingAndGlyphs" >band</text>
<text x="556.60" y="511.60" font-size="17.6" text-anchor="end" textLength="43.5" lengthAdjust="spacingAndGlyphs" >HEAT</text>
<text x="556.60" y="528.60" font-size="17.6" text-anchor="end" textLength="39.6" lengthAdjust="spacingAndGlyphs" >BETS</text>
<text x="556.60" y="545.70" font-size="17.6" text-anchor="end" textLength="34.7" lengthAdjust="spacingAndGlyphs" >AMS</text>
<text x="556.60" y="563.30" font-size="17.6" text-anchor="end" textLength="46.8" lengthAdjust="spacingAndGlyphs" >ATIC2</text>
<text x="92.40" y="596.60" font-size="17.6" text-anchor="middle" >1</text>
<text x="331.20" y="596.60" font-size="17.6" text-anchor="middle" textLength="18.6" lengthAdjust="spacingAndGlyphs" >10</text>
<text x="569.00" y="596.60" font-size="17.6" text-anchor="middle" textLength="27.5" lengthAdjust="spacingAndGlyphs" >100</text>
<text x="301.60" y="622.50" font-size="17.6" text-anchor="start" textLength="52.0" lengthAdjust="spacingAndGlyphs" >Energy</text>
<text x="360.40" y="622.50" font-size="17.6" text-anchor="start" textLength="42.4" lengthAdjust="spacingAndGlyphs" >[GeV]</text>
<text x="31.60" y="160.30" font-size="17.6" text-anchor="start" textLength="17.5" lengthAdjust="spacingAndGlyphs" >10</text>
<text x="50.00" y="152.00" font-size="14" text-anchor="start" >3</text>
<text x="31.60" y="436.20" font-size="17.6" text-anchor="start" textLength="17.5" lengthAdjust="spacingAndGlyphs" >10</text>
<text x="50.00" y="428.00" font-size="14" text-anchor="start" >2</text>
<text transform="translate(24.10,424.60) rotate(-90)" font-size="17.6" textLength="9.6" lengthAdjust="spacingAndGlyphs">E</text>
<text transform="translate(15.30,415.40) rotate(-90)" font-size="14" textLength="18.6" lengthAdjust="spacingAndGlyphs">3.5</text>
<text transform="translate(24.10,390.00) rotate(-90)" font-size="17.6" textLength="18.6" lengthAdjust="spacingAndGlyphs">(Φ</text>
<text transform="translate(29.00,370.60) rotate(-90)" font-size="15">e</text>
<text transform="translate(22.80,362.00) rotate(-90)" font-size="14" textLength="6.0" lengthAdjust="spacingAndGlyphs">−</text>
<text transform="translate(24.10,350.30) rotate(-90)" font-size="17.6" textLength="20.5" lengthAdjust="spacingAndGlyphs">[m</text>
<text transform="translate(15.30,325.00) rotate(-90)" font-size="14" textLength="17.5" lengthAdjust="spacingAndGlyphs">−2</text>
<text transform="translate(24.10,302.20) rotate(-90)" font-size="17.6" textLength="12.4" lengthAdjust="spacingAndGlyphs">sr</text>
<text transform="translate(15.30,289.60) rotate(-90)" font-size="14" textLength="15.5" lengthAdjust="spacingAndGlyphs">−1</text>
<text transform="translate(24.10,272.00) rotate(-90)" font-size="17.6" textLength="8.4" lengthAdjust="spacingAndGlyphs">s</text>
<text transform="translate(15.30,258.70) rotate(-90)" font-size="14" textLength="15.5" lengthAdjust="spacingAndGlyphs">−1</text>
<text transform="translate(24.10,235.20) rotate(-90)" font-size="17.6" textLength="30.0" lengthAdjust="spacingAndGlyphs">GeV</text>
<text transform="translate(15.30,201.60) rotate(-90)" font-size="14" textLength="15.5" lengthAdjust="spacingAndGlyphs">−1</text>
<text transform="translate(24.10,185.80) rotate(-90)" font-size="17.6" textLength="15.0" lengthAdjust="spacingAndGlyphs">])</text>
</g>
</svg>
</body></html>
